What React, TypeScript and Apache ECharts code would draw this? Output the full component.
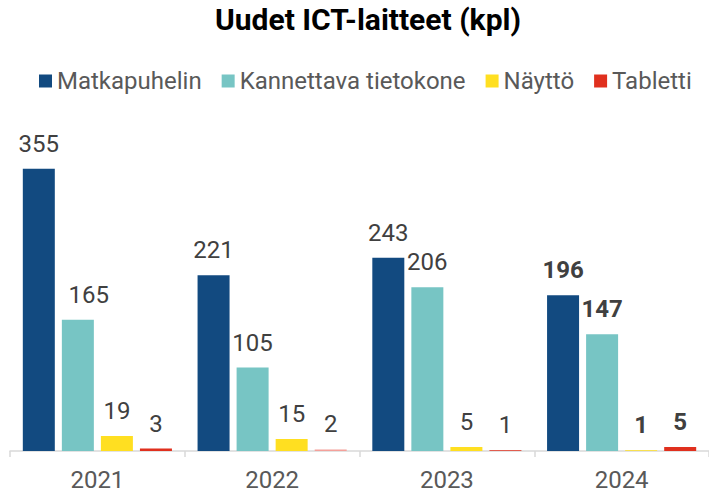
import React, { useEffect, useRef } from "react";
import * as echarts from "echarts";

const categories = ["2021", "2022", "2023", "2024"];
const seriesNames = ["Matkapuhelin", "Kannettava tietokone", "Näyttö", "Tabletti"];
const matkapuhelin = [355, 221, 243, 196];
const kannettava = [165, 105, 206, 147];
const naytto = [19, 15, 5, 1];
const tabletti = [3, 2, 1, 5];
const colors = ["#124A80", "#77C5C4", "#FFDF21", "#E0301E"];

const FONT = "Roboto";

export default function App() {
  const ref = useRef<HTMLDivElement>(null);
  useEffect(() => {
    if (!ref.current) return;
    const chart = echarts.init(ref.current, undefined, { renderer: "svg" });
    const values = [matkapuhelin, kannettava, naytto, tabletti];
    const series = values.map((vals, si) => ({
      name: seriesNames[si],
      type: "bar",
      barWidth: 32,
      barGap: "22%",
      itemStyle: { color: colors[si] },
      label: {
        show: true,
        position: "top",
        distance: 13,
        fontFamily: FONT,
        fontSize: 24,
        color: "#404040",
      },
      data: vals.map((v, i) => {
        const item: any = { value: v };
        const lab: any = {};
        if (i === 3) lab.fontWeight = "bold";
        if (si === 1 && i === 0) lab.offset = [11, 0];
        item.label = lab;
        if (si === 3 && i === 1) item.itemStyle = { color: "#F4A09A" };
        return item;
      }),
    }));
    chart.setOption({
      animation: false,
      title: {
        text: "Uudet ICT-laitteet (kpl)",
        left: 368,
        textAlign: "center",
        top: 4,
        padding: 0,
        textStyle: { fontFamily: FONT, fontSize: 30, fontWeight: "bold", color: "#000" },
      },
      legend: {
        top: 69,
        left: 39,
        padding: 0,
        icon: "rect",
        itemWidth: 13,
        itemHeight: 13,
        itemGap: 20,
        textStyle: { fontFamily: FONT, fontSize: 24, color: "#595959" },
        data: seriesNames,
      },
      grid: { left: 10, width: 703, top: 133, bottom: 47, containLabel: false },
      xAxis: {
        type: "category",
        data: categories,
        axisLine: { lineStyle: { color: "#D9D9D9", width: 1.5 } },
        axisTick: { show: true, length: 6, alignWithLabel: false, lineStyle: { color: "#D9D9D9", width: 1.5 } },
        axisLabel: { fontFamily: FONT, fontSize: 24, color: "#595959", margin: 17 },
      },
      yAxis: { type: "value", min: 0, max: 400, show: false, splitLine: { show: false } },
      series,
    });
    return () => chart.dispose();
  }, []);
  return <div ref={ref} style={{ position: "absolute", left: 0, top: 0, width: 709, height: 498 }} />;
}
